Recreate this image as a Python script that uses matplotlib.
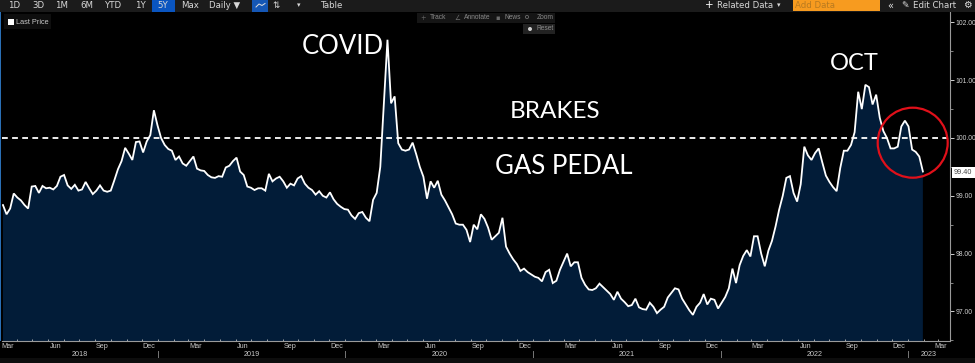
import datetime as dt

import matplotlib
matplotlib.use("Agg")
import matplotlib.dates as mdates
import matplotlib.pyplot as plt
import pandas as pd
from matplotlib.patches import Circle, Rectangle

START_DATE = "2018-03-05"

# weekly closes
prices_2018 = [
    98.84, 98.68, 98.78, 99.04, 98.97, 98.92, 98.84, 98.78, 99.16, 99.17,
    99.05, 99.17, 99.13, 99.14, 99.11, 99.17, 99.33, 99.36, 99.18, 99.12,
    99.19, 99.09, 99.11, 99.24, 99.13, 99.03, 99.09, 99.18, 99.09, 99.07,
    99.09, 99.27, 99.46, 99.60, 99.83, 99.73, 99.62, 99.93, 99.94, 99.75,
    99.94, 100.05, 100.48, 100.22,
]
prices_2019 = [
    100.00, 99.88, 99.81, 99.78, 99.62, 99.68, 99.56, 99.52, 99.60, 99.68,
    99.47, 99.44, 99.43, 99.36, 99.32, 99.31, 99.34, 99.33, 99.49, 99.52,
    99.60, 99.66, 99.42, 99.36, 99.16, 99.14, 99.10, 99.13, 99.13, 99.09,
    99.38, 99.25, 99.30, 99.33, 99.25, 99.14, 99.21, 99.18, 99.30, 99.34,
    99.21, 99.14, 99.10, 99.02, 99.08, 99.00, 98.97,
]
prices_2020 = [
    99.06, 98.94, 98.86, 98.81, 98.77, 98.76, 98.66, 98.60, 98.70, 98.72,
    98.62, 98.56, 98.93, 99.05, 99.50, 100.60, 101.70, 100.60, 100.72, 99.91,
    99.80, 99.78, 99.80, 99.92, 99.72, 99.50, 99.33, 98.95, 99.25, 99.14,
    99.26, 99.02, 98.92, 98.80, 98.68, 98.52, 98.50, 98.50, 98.41, 98.20,
    98.50, 98.42,
]
prices_2021 = [
    98.68, 98.60, 98.45, 98.24, 98.30, 98.36, 98.62, 98.12, 98.00, 97.90,
    97.82, 97.70, 97.74, 97.68, 97.64, 97.60, 97.58, 97.52, 97.68, 97.72,
    97.49, 97.53, 97.72, 97.86, 98.00, 97.78, 97.85, 97.85, 97.58, 97.46,
    97.38, 97.37, 97.40, 97.48, 97.42, 97.36, 97.30, 97.20, 97.34, 97.22,
    97.16, 97.09, 97.11, 97.22, 97.07, 97.04, 97.03, 97.15, 97.08, 96.97,
]
prices_2022 = [
    97.03, 97.08, 97.24, 97.32, 97.40, 97.38, 97.22, 97.12, 97.02, 96.94,
    97.08, 97.15, 97.30, 97.12, 97.22, 97.20, 97.05, 97.15, 97.25, 97.40,
    97.74, 97.49, 97.80, 97.96, 98.06, 97.95, 98.30, 98.30, 98.00, 97.78,
    98.05, 98.22, 98.47, 98.76, 99.00, 99.31, 99.34, 99.05, 98.90, 99.20,
    99.85, 99.70, 99.62, 99.74, 99.82, 99.58, 99.35, 99.24, 99.15, 99.08,
    99.48, 99.78, 99.78, 99.88, 100.10, 100.80, 100.50, 100.92, 100.88, 100.58,
    100.75, 100.35, 100.12, 100.00, 99.82, 99.82, 99.85, 100.20, 100.30, 100.20,
    99.80, 99.76, 99.68, 99.42,
]

y_ticks = [97, 98, 99, 100, 101, 102]
y_minor = [96.5, 97.5, 98.5, 99.5, 100.5, 101.5]
quarter_labels = ["Mar", "Jun", "Sep", "Dec"]
year_labels = [2018, 2019, 2020, 2021, 2022, 2023]
last_price = 99.40
threshold = 100.0

range_buttons = [("1D", 14), ("3D", 38), ("1M", 62), ("6M", 87), ("YTD", 114), ("1Y", 140),
                 ("5Y", 163), ("Max", 190)]
tool_buttons = [("Track", 438, "+", 423), ("Annotate", 477, "\u2220", 457),
                ("News", 513, "\u25AA", 498), ("Zoom", 545, None, 527)]
annotations = [("COVID", 343, 47, 18.5), ("BRAKES", 555, 111, 17.5),
               ("GAS PEDAL", 564, 166, 18.5), ("OCT", 854, 64, 17)]


def px_date(px):
    # 2019-01-01 sits at x=158 and 2023-01-01 at x=908
    base = mdates.date2num(dt.date(2019, 1, 1))
    span = mdates.date2num(dt.date(2023, 1, 1)) - base
    return base + (px - 158) * span / 750.0


def draw_chart(fig):
    prices = prices_2018 + prices_2019 + prices_2020 + prices_2021 + prices_2022
    dates = pd.date_range(START_DATE, periods=len(prices), freq="7D")

    ax = fig.add_axes([2 / 975, 1 - 341 / 363, 948 / 975, 329 / 363], facecolor="black")
    ax.fill_between(dates, prices, 90, color="#021c38", lw=0)
    ax.plot(dates, prices, color="white", lw=1.3, solid_joinstyle="miter")
    ax.plot([px_date(2), px_date(948)], [threshold, threshold], color="white", lw=1.3,
            dashes=(3.2, 2.4))

    ax.set_xlim(px_date(2), px_date(950))
    ax.set_ylim(100 - (341 - 138) / 57.8, 100 + (138 - 12) / 57.8)

    for side in ["top", "left"]:
        ax.spines[side].set_visible(False)
    ax.spines["right"].set_color("#9a9a9a")
    ax.spines["bottom"].set_color("#9a9a9a")

    ax.yaxis.tick_right()
    ax.set_yticks(y_ticks)
    ax.set_yticklabels([f"{v:.2f}" for v in y_ticks], fontsize=4.9, color="#d0d0d0",
                       family="Liberation Sans")
    ax.set_yticks(y_minor, minor=True)
    ax.tick_params(axis="y", which="major", colors="#d0d0d0", length=3, width=0.7, pad=0.8)
    ax.tick_params(axis="y", which="minor", colors="#9a9a9a", length=2, width=0.6)

    months = pd.date_range("2018-04-01", "2023-03-01", freq="MS")
    ax.set_xticks(mdates.date2num(months))
    ax.tick_params(axis="x", which="major", colors="#c0c0c0", length=1.2, width=0.6,
                   labelbottom=False, direction="in")

    trans = ax.get_xaxis_transform()
    text_kw = dict(transform=trans, ha="center", va="center", fontsize=5.2, color="#c8c8c8",
                   family="Liberation Sans", clip_on=False)
    for month in pd.date_range("2018-03-01", "2023-03-01", freq="QS-MAR"):
        xpos = mdates.date2num(month + pd.Timedelta(days=14))
        label = quarter_labels[(month.month - 3) // 3]
        if month.year == 2023:
            xpos = px_date(941)
        ax.text(xpos, -0.0165, label, **text_kw)

    lo, hi = ax.get_xlim()
    for year in year_labels:
        left = max(mdates.date2num(dt.date(year, 1, 1)), lo)
        right = min(mdates.date2num(dt.date(year + 1, 1, 1)), hi)
        ax.text((left + right) / 2, -0.04, str(year), **text_kw)
        if year > year_labels[0]:
            ax.plot([left, left], [-0.03, -0.052], transform=trans, color="#777777", lw=0.7,
                    clip_on=False)
    return ax


def draw_overlay(fig):
    # screen furniture of the terminal, in pixels of the picture
    ov = fig.add_axes([0, 0, 1, 1])
    ov.set_xlim(0, 975)
    ov.set_ylim(363, 0)
    ov.axis("off")
    ov.patch.set_alpha(0)

    ov.add_patch(Rectangle((0, 0), 975, 12, color="#1b1b1b", lw=0))
    ov.add_patch(Rectangle((0, 358), 975, 5, color="#0d0d0d", lw=0))
    ov.add_patch(Rectangle((0, 12), 1.4, 329, color="#2a6fb5", lw=0))
    ov.add_patch(Rectangle((152, 0), 23, 12, color="#0a55c0", lw=0))
    ov.add_patch(Rectangle((252, 0), 16, 12, color="#1557b5", lw=0))
    ov.add_patch(Rectangle((793, 0), 87, 11, color="#f79b1f", lw=0))

    bar_kw = dict(ha="center", va="center", fontsize=6.2, color="#d8d8d8", family="DejaVu Sans")
    for label, xpos in range_buttons:
        ov.text(xpos, 5.5, label, **bar_kw)
    ov.text(225, 5.5, "Daily \u25BC", **bar_kw)
    ov.plot([256, 259, 262, 265], [7, 4, 5.5, 3.5], color="#e0e0e0", lw=0.7)
    ov.text(276, 5.5, "\u21C5", **bar_kw)
    ov.text(299, 5.5, "\u25BE", ha="center", va="center", fontsize=5, color="#d8d8d8",
            family="DejaVu Sans")
    ov.text(332, 5.5, "Table", **bar_kw)
    ov.text(709, 5.5, "+", ha="center", va="center", fontsize=7.5, color="white",
            family="DejaVu Sans")
    ov.text(745, 5.5, "Related Data", **bar_kw)
    ov.text(779, 5.5, "\u25BE", ha="center", va="center", fontsize=5, color="#d8d8d8",
            family="DejaVu Sans")
    ov.text(795, 5.5, "Add Data", ha="left", va="center", fontsize=6.2, color="#b87a20",
            family="DejaVu Sans")
    ov.text(890, 5.8, "\u00AB", ha="center", va="center", fontsize=7, color="#e0e0e0",
            family="DejaVu Sans")
    ov.text(905, 5.5, "\u270E", ha="center", va="center", fontsize=6.5, color="#e0e0e0",
            family="DejaVu Sans")
    ov.text(935, 5.5, "Edit Chart", **bar_kw)
    ov.text(967, 5.5, "\u2699", ha="center", va="center", fontsize=7, color="#e0e0e0",
            family="DejaVu Sans")

    ov.add_patch(Rectangle((4, 14), 47, 15, color="#0e0e0e", lw=0))
    ov.add_patch(Rectangle((8, 19), 6, 6, color="white", lw=0))
    ov.text(16, 22.3, "Last Price", ha="left", va="center", fontsize=5.3, color="#c8c8c8",
            family="Liberation Sans")

    ov.add_patch(Rectangle((417, 13), 138, 10, color="#151515", lw=0))
    for label, xpos, glyph, glyph_x in tool_buttons:
        ov.text(xpos, 17.5, label, ha="center", va="center", fontsize=4.8, color="#8a8a8a",
                family="Liberation Sans")
        if glyph:
            ov.text(glyph_x, 17.5, glyph, ha="center", va="center", fontsize=4.8,
                    color="#6a6a6a", family="DejaVu Sans")
        else:
            ov.add_patch(Circle((glyph_x, 17), 1.6, fill=False, edgecolor="#6a6a6a", lw=0.6))
    ov.add_patch(Rectangle((523, 24), 32, 10, color="#222222", lw=0))
    ov.add_patch(Circle((530, 29), 2, color="#d0d0d0", lw=0))
    ov.text(545, 29, "Reset", ha="center", va="center", fontsize=4.8, color="#8a8a8a",
            family="Liberation Sans")

    for label, xpos, ypos, size in annotations:
        ov.text(xpos, ypos, label, ha="center", va="center", color="white", family="Lato",
                fontsize=size)

    ov.add_patch(Circle((912.7, 142.7), 35, fill=False, edgecolor="#e0101a", lw=1.6))

    ov.add_patch(Rectangle((952, 167), 23, 11, color="white", lw=0))
    ov.text(954, 172.7, f"{last_price:.2f}", ha="left", va="center", fontsize=5.2,
            color="#444444", family="Liberation Sans")


def main():
    fig = plt.figure(figsize=(9.75, 3.63), dpi=100, facecolor="black")
    draw_chart(fig)
    draw_overlay(fig)
    fig.savefig("out.png", dpi=100, facecolor="black")
    plt.close(fig)


if __name__ == "__main__":
    main()
